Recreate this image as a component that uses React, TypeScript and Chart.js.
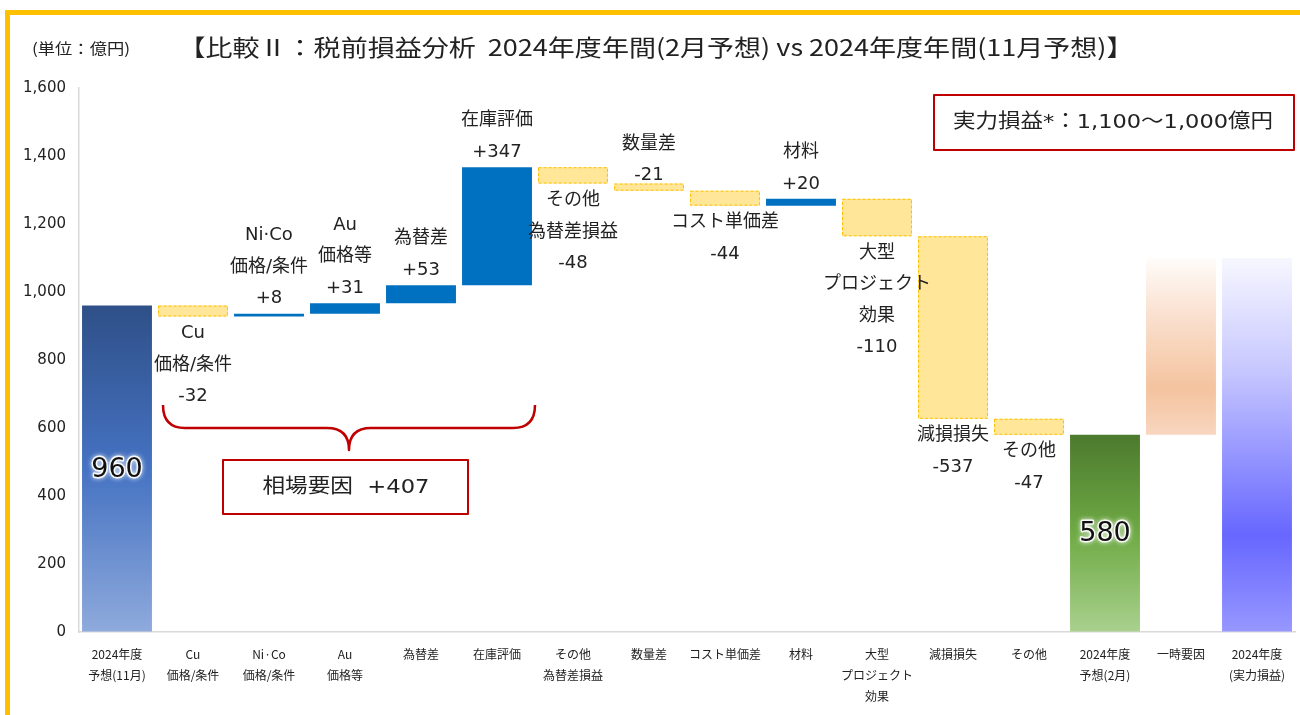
import React, { useEffect, useRef } from "react";
import { Chart, registerables } from "chart.js";

Chart.register(...registerables);

// ---------------- data ----------------
const categories: string[][] = [
  ["2024年度", "予想(11月)"],
  ["Cu", "価格/条件"],
  ["Ni·Co", "価格/条件"],
  ["Au", "価格等"],
  ["為替差"],
  ["在庫評価"],
  ["その他", "為替差損益"],
  ["数量差"],
  ["コスト単価差"],
  ["材料"],
  ["大型", "プロジェクト", "効果"],
  ["減損損失"],
  ["その他"],
  ["2024年度", "予想(2月)"],
  ["一時要因"],
  ["2024年度", "(実力損益)"],
];

const startValue = 960;
const deltas = [-32, 8, 31, 53, 347, -48, -21, -44, 20, -110, -537, -47];
const deltaNames: string[][] = [
  ["Cu", "価格/条件"],
  ["Ni·Co", "価格/条件"],
  ["Au", "価格等"],
  ["為替差"],
  ["在庫評価"],
  ["その他", "為替差損益"],
  ["数量差"],
  ["コスト単価差"],
  ["材料"],
  ["大型", "プロジェクト", "効果"],
  ["減損損失"],
  ["その他"],
];
const deltaLabelAbove = [false, true, true, true, true, false, true, false, true, false, false, false];
const endValue = 580;
const oneTimeRange: [number, number] = [580, 1100];
const actualValue = 1100;
const yTicks = [0, 200, 400, 600, 800, 1000, 1200, 1400, 1600];

const titleText = "【比較Ⅱ：税前損益分析  2024年度年間(2月予想) vs 2024年度年間(11月予想)】";
const unitText = "(単位：億円)";
const actualBoxText = "実力損益*：1,100～1,000億円";
const marketBoxText = "相場要因  +407";

// ---------------- derived ----------------
const ranges: [number, number][] = [[0, startValue]];
let cum = startValue;
deltas.forEach((d) => {
  ranges.push(d < 0 ? [cum + d, cum] : [cum, cum + d]);
  cum += d;
});
ranges.push([0, endValue]);
ranges.push(oneTimeRange);
ranges.push([0, actualValue]);

const LATIN = '"DejaVu Sans", "Noto Sans CJK JP", sans-serif';
const CJK = '"Noto Sans CJK JP", "DejaVu Sans", sans-serif';
const TEXT = "#222222";
const YELLOW_FILL = "#FFE699";
const YELLOW_EDGE = "#FFC000";
const BLUE = "#0070C0";
const RED = "#C00000";

function fmtDelta(d: number) {
  return (d > 0 ? "+" : "") + d;
}

function fitText(ctx: CanvasRenderingContext2D, t: string, x: number, y: number, w: number) {
  const m = ctx.measureText(t).width || 1;
  ctx.save();
  ctx.translate(x, y);
  ctx.scale(w / m, 1);
  ctx.fillText(t, 0, 0);
  ctx.restore();
}

const overlayPlugin = {
  id: "overlay",
  afterDatasetsDraw(chart: any) {
    const ctx: CanvasRenderingContext2D = chart.ctx;
    const meta = chart.getDatasetMeta(0);
    ctx.save();
    ctx.setLineDash([3, 2]);
    ctx.strokeStyle = YELLOW_EDGE;
    ctx.lineWidth = 1;
    deltas.forEach((d, k) => {
      if (d >= 0) return;
      const el = meta.data[k + 1];
      const { x, y, base, width } = el.getProps(["x", "y", "base", "width"], true);
      const top = Math.min(y, base);
      const h = Math.abs(base - y);
      ctx.strokeRect(x - width / 2 + 0.5, top + 0.5, width - 1, h - 1);
    });
    ctx.restore();
  },
  afterDraw(chart: any) {
    const ctx: CanvasRenderingContext2D = chart.ctx;
    const xs = chart.scales.x;
    const meta = chart.getDatasetMeta(0);
    ctx.save();

    // frame (yellow)
    ctx.fillStyle = YELLOW_EDGE;
    ctx.fillRect(5, 10, 1295, 5);
    ctx.fillRect(5, 10, 5, 705);

    // unit & title
    ctx.fillStyle = TEXT;
    ctx.textBaseline = "middle";
    ctx.textAlign = "center";
    ctx.font = `15px ${CJK}`;
    fitText(ctx, unitText, 81, 48, 98);
    ctx.font = `23px ${CJK}`;
    fitText(ctx, titleText, 656, 47, 955);

    // delta labels
    ctx.font = `18px ${LATIN}`;
    const lh = 31.5;
    deltas.forEach((d, k) => {
      const el = meta.data[k + 1];
      const { x, y, base } = el.getProps(["x", "y", "base"], true);
      const top = Math.min(y, base);
      const bot = Math.max(y, base);
      const lines = [...deltaNames[k], fmtDelta(d)];
      if (deltaLabelAbove[k]) {
        const last = top - (lines.length === 2 && Math.abs(d) < 25 && d < 0 ? 8 : 15);
        lines.forEach((t, i) => {
          ctx.fillText(t, x, last - (lines.length - 1 - i) * lh);
        });
      } else {
        const first = bot + 17;
        lines.forEach((t, i) => {
          ctx.fillText(t, x, first + i * lh);
        });
      }
    });

    // value labels inside totals
    const glowText = (t: string, x: number, y: number) => {
      ctx.font = `27px ${LATIN}`;
      ctx.lineJoin = "round";
      ctx.shadowColor = "rgba(255,255,255,0.95)";
      ctx.shadowBlur = 5;
      ctx.strokeStyle = "rgba(255,255,255,0.9)";
      ctx.lineWidth = 3;
      ctx.strokeText(t, x, y);
      ctx.shadowBlur = 0;
      ctx.fillStyle = "#111";
      ctx.fillText(t, x, y);
      ctx.fillStyle = TEXT;
    };
    [0, 13].forEach((i) => {
      const el = meta.data[i];
      const { x, y, base } = el.getProps(["x", "y", "base"], true);
      glowText(String(ranges[i][1]), x, (y + base) / 2 + 1);
    });

    // brace
    const left = xs.getPixelForValue(1) - 30;
    const right = xs.getPixelForValue(5) + 38;
    const mid = (left + right) / 2;
    const yTop = 405, yLine = 428, yTip = 450, r = 22;
    ctx.strokeStyle = RED;
    ctx.lineWidth = 2.5;
    ctx.beginPath();
    ctx.moveTo(left, yTop);
    ctx.quadraticCurveTo(left, yLine, left + r, yLine);
    ctx.lineTo(mid - r, yLine);
    ctx.quadraticCurveTo(mid, yLine, mid, yTip);
    ctx.quadraticCurveTo(mid, yLine, mid + r, yLine);
    ctx.lineTo(right - r, yLine);
    ctx.quadraticCurveTo(right, yLine, right, yTop);
    ctx.stroke();

    // boxes
    ctx.lineWidth = 2;
    ctx.strokeRect(223, 460, 245, 54);
    ctx.strokeRect(934, 95, 360, 55);
    ctx.fillStyle = TEXT;
    ctx.font = `20px ${LATIN}`;
    fitText(ctx, marketBoxText, 346, 488, 167);
    fitText(ctx, actualBoxText, 1113, 123, 320);

    ctx.restore();
  },
};

function makeGradient(ctx: CanvasRenderingContext2D, top: number, bot: number, stops: [number, string][]) {
  const g = ctx.createLinearGradient(0, top, 0, bot);
  stops.forEach(([o, c]) => g.addColorStop(o, c));
  return g;
}

export default function App() {
  const ref = useRef<HTMLCanvasElement | null>(null);

  useEffect(() => {
    if (!ref.current) return;
    const chart = new Chart(ref.current, {
      type: "bar",
      data: {
        labels: categories,
        datasets: [
          {
            data: ranges,
            borderWidth: 0,
            barPercentage: 0.92,
            categoryPercentage: 1,
            backgroundColor: (c: any) => {
              const i = c.dataIndex;
              const ch = c.chart;
              const ys = ch.scales.y;
              if (!ys || !ch.chartArea) return "#cccccc";
              const [lo, hi] = ranges[i];
              const top = ys.getPixelForValue(hi);
              const bot = ys.getPixelForValue(lo);
              const cx = ch.ctx;
              if (i === 0)
                return makeGradient(cx, top, bot, [
                  [0, "#2F5088"],
                  [0.5, "#4572C2"],
                  [1, "#8FAADC"],
                ]);
              if (i === 13)
                return makeGradient(cx, top, bot, [
                  [0, "#4C7A2D"],
                  [0.5, "#6FAA45"],
                  [1, "#A9D18E"],
                ]);
              if (i === 14)
                return makeGradient(cx, top, bot, [
                  [0, "#FFFCFA"],
                  [0.3, "#FAE2D2"],
                  [0.74, "#F4C39E"],
                  [1, "#F8D6C0"],
                ]);
              if (i === 15)
                return makeGradient(cx, top, bot, [
                  [0, "#F7F7FF"],
                  [0.3, "#C7C7FF"],
                  [0.74, "#6767FF"],
                  [1, "#9797FF"],
                ]);
              return deltas[i - 1] >= 0 ? BLUE : YELLOW_FILL;
            },
          },
        ],
      },
      options: {
        animation: false,
        responsive: false,
        layout: { padding: { left: 0, right: 5, top: 88, bottom: 0 } },
        plugins: {
          legend: { display: false },
          title: { display: false },
          tooltip: { enabled: false },
        },
        scales: {
          x: {
            grid: { display: true, drawOnChartArea: false, drawTicks: false },
            border: { display: true, color: "#D9D9D9", width: 1.5 },
            ticks: {
              maxRotation: 0,
              autoSkip: false,
              color: TEXT,
              padding: 12,
              font: { family: CJK, size: 12, lineHeight: "21px" },
            },
            afterFit: (s: any) => {
              s.height = 83;
            },
          },
          y: {
            min: 0,
            max: 1600,
            grid: { display: true, drawOnChartArea: false, drawTicks: false },
            border: { display: true, color: "#D9D9D9", width: 1.5 },
            afterBuildTicks: (s: any) => {
              s.ticks = yTicks.map((v) => ({ value: v }));
            },
            ticks: {
              color: TEXT,
              padding: 13,
              font: { family: LATIN, size: 15 },
              callback: (v: any) => Number(v).toLocaleString("en-US"),
            },
            afterFit: (s: any) => {
              s.width = 79;
            },
          },
        },
      } as any,
      plugins: [overlayPlugin],
    });
    return () => chart.destroy();
  }, []);

  return (
    <div style={{ position: "absolute", left: 0, top: 0, width: 1300, height: 715, background: "#fff" }}>
      <canvas ref={ref} width={1300} height={715} style={{ display: "block", width: 1300, height: 715 }} />
    </div>
  );
}
